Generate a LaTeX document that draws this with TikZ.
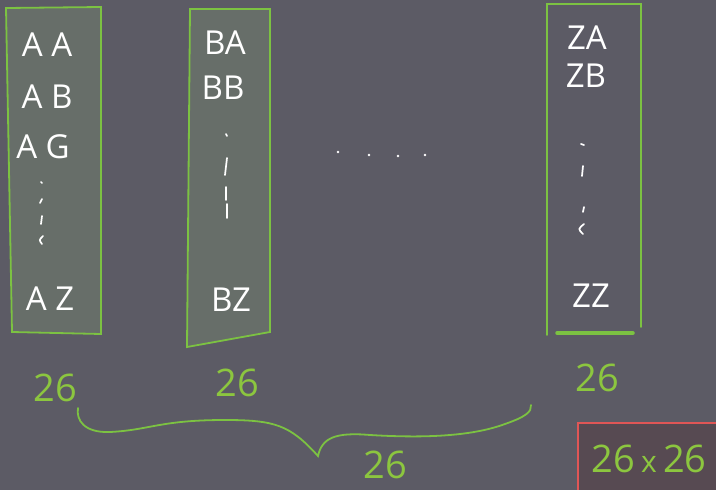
\documentclass[tikz,border=0pt]{standalone}
\usepackage{fontspec}
\setmainfont{Open Sans}
\definecolor{bg}{HTML}{5C5B65}
\definecolor{boxfill}{HTML}{676E69}
\definecolor{lime}{HTML}{7CC242}
\definecolor{limetext}{HTML}{8CC63F}
\definecolor{redline}{HTML}{E05656}
\definecolor{redfill}{HTML}{574A52}
\begin{document}
\begin{tikzpicture}[x=1pt,y=-1pt,
  colbox/.style={draw=lime, line width=1.8pt, fill=boxfill},
  wt/.style={text=white, font=\fontsize{33}{33}\selectfont, inner sep=0pt},
  gt/.style={text=limetext, font=\fontsize{38}{38}\selectfont, inner sep=0pt},
  chalk/.style={white, line width=1.7pt, line cap=round},
  gline/.style={lime, line width=1.8pt, line cap=round}]
\fill[bg] (0,0) rectangle (716,490);
\useasboundingbox (0,0) rectangle (716,490);

% column boxes
\draw[colbox] (6,8) -- (101,7) -- (101,334) -- (12,332) -- cycle;
\draw[colbox] (190,9) -- (270,9) -- (270,332) -- (187,347) -- cycle;
\draw[gline] (547,335) -- (547,4) -- (641,4) -- (641,327);
\draw[lime, line width=3.5pt, line cap=round] (557,333) -- (633,333);

% column 1
\node[wt] (aa) at (47,45) {A A};
\node[wt] (ab) at (47,97) {A B};
\node[wt] (ag) at (43,147) {A G};
\draw[chalk] (41,182) -- (42,183);
\draw[chalk] (42,199) -- (40,203);
\draw[chalk] (42,216) -- (41,224);
\draw[chalk] (43,236) .. controls (39,240) .. (42,244);
\node[wt] (az) at (50,299) {A Z};

% column 2
\node[wt] (ba) at (225,43) {BA};
\node[wt] (bb) at (223,88) {BB};
\draw[chalk] (226,134) -- (227,136);
\draw[chalk] (227,158) -- (225,175);
\draw[chalk] (226,187) -- (226,200);
\draw[chalk] (227,204) -- (227,218);
\node[wt] (bz) at (231,300) {BZ};

% column 3
\node[wt] (za) at (587,38) {ZA};
\node[wt] (zb) at (586,76) {ZB};
\draw[chalk] (581,144) -- (584,145);
\draw[chalk] (583,166) -- (582,176);
\draw[chalk] (584,207) -- (583,212);
\draw[chalk] (584,224) .. controls (578,229) .. (583,234);
\node[wt] (zz) at (591,296) {ZZ};

% middle dots
\foreach \px/\py in {338/152, 369/155, 398/156, 425/155}
  \fill[white] (\px,\py) circle (1.4pt);

% counts
\node[gt] (c1) at (55,388) {26};
\node[gt] (c2) at (237,383) {26};
\node[gt] (c3) at (597,378) {26};

% brace
\draw[gline] (78,408) .. controls (76,420) and (84,433) .. (110,432)
  .. controls (150,430) and (160,420) .. (225,420)
  .. controls (275,420) and (290,425) .. (318,456)
  .. controls (322,438) and (335,432) .. (370,435)
  .. controls (420,438) and (470,437) .. (505,424)
  .. controls (525,417) and (532,412) .. (531,405);
\node[gt] (c4) at (385,465) {26};

% total
\draw[draw=redline, fill=redfill, line width=1.8pt] (578,423) rectangle (720,494);
\node[gt] (tot) at (649,459) {26\,{\fontsize{30}{30}\selectfont x}\,26};
\end{tikzpicture}
\end{document}
